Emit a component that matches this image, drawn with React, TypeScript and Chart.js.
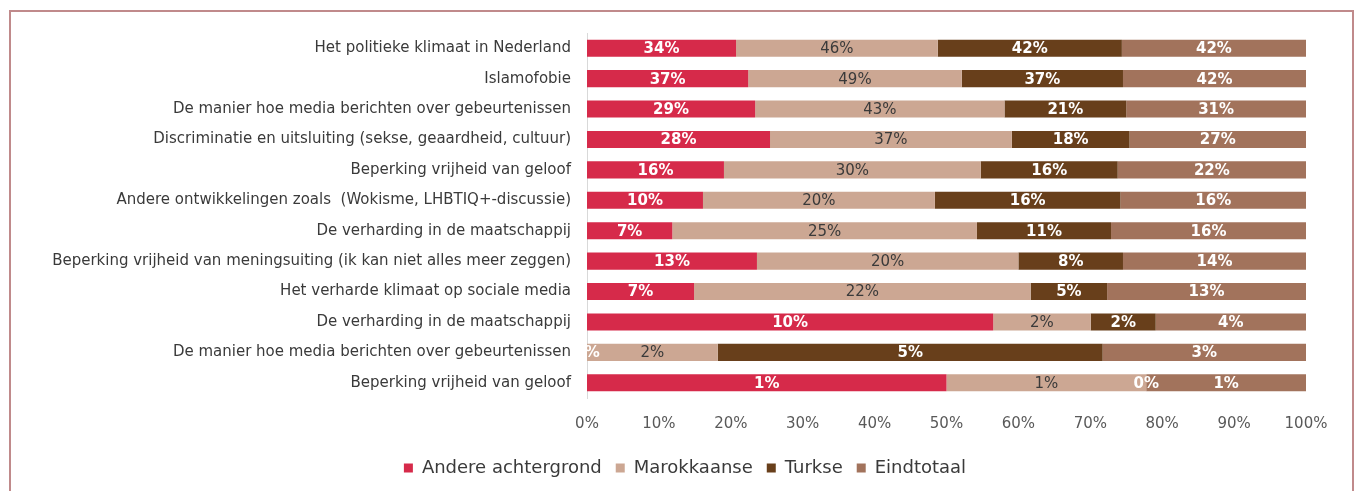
import React, { useEffect, useRef } from "react";
import { Chart, registerables } from "chart.js";

Chart.register(...registerables);

const categories = [
  "Het politieke klimaat in Nederland",
  "Islamofobie",
  "De manier hoe media berichten over gebeurtenissen",
  "Discriminatie en uitsluiting (sekse, geaardheid, cultuur)",
  "Beperking vrijheid van geloof",
  "Andere ontwikkelingen zoals  (Wokisme, LHBTIQ+-discussie)",
  "De verharding in de maatschappij",
  "Beperking vrijheid van meningsuiting (ik kan niet alles meer zeggen)",
  "Het verharde klimaat op sociale media",
  "De verharding in de maatschappij",
  "De manier hoe media berichten over gebeurtenissen",
  "Beperking vrijheid van geloof",
];

const seriesNames = ["Andere achtergrond", "Marokkaanse", "Turkse", "Eindtotaal"];
const andere = [34, 37, 29, 28, 16, 10, 7, 13, 7, 10, 0, 1.35];
const marokkaanse = [46, 49, 43, 37, 30, 20, 25, 20, 22, 2.4, 1.8, 0.75];
const turkse = [42, 37, 21, 18, 16, 16, 11, 8, 5, 1.6, 5.3, 0];
const eindtotaal = [42, 42, 31, 27, 22, 16, 16, 14, 13, 3.7, 2.8, 0.6];
const xTicks = [0, 10, 20, 30, 40, 50, 60, 70, 80, 90, 100];

const colors = ["#d62a4a", "#cca793", "#683f1b", "#a2735c"];
const labelColors = ["#ffffff", "#3a3a3a", "#ffffff", "#ffffff"];

const FONT = "'DejaVu Sans', sans-serif";

export default function App() {
  const ref = useRef<HTMLCanvasElement | null>(null);

  useEffect(() => {
    if (!ref.current) return;
    const raw = [andere, marokkaanse, turkse, eindtotaal];
    const sums = categories.map((_, i) => raw.reduce((s, arr) => s + arr[i], 0));

    const labelPlugin = {
      id: "barLabels",
      afterDatasetsDraw(chart: any) {
        const ctx = chart.ctx;
        ctx.save();
        ctx.textAlign = "center";
        ctx.textBaseline = "middle";
        chart.data.datasets.forEach((ds: any, di: number) => {
          const meta = chart.getDatasetMeta(di);
          meta.data.forEach((bar: any, i: number) => {
            const v = ds.rawValues[i];
            const x = (bar.x + bar.base) / 2;
            ctx.fillStyle = labelColors[di];
            ctx.font = (di === 1 ? "" : "bold ") + "15px " + FONT;
            ctx.fillText(Math.round(v) + "%", x, bar.y + 1);
          });
        });
        ctx.restore();
      },
    };

    const legendShift = {
      id: "legendShift",
      afterLayout(chart: any) {
        const lg = chart.legend;
        if (!lg) return;
        const shift = 685 - (lg.left + lg.right) / 2;
        lg.left += shift;
        lg.right += shift;
      },
    };

    const chart = new Chart(ref.current, {
      type: "bar",
      data: {
        labels: categories,
        datasets: raw.map((arr, di) => ({
          label: seriesNames[di],
          data: arr.map((v, i) => (v / sums[i]) * 100),
          rawValues: arr,
          backgroundColor: colors[di],
          borderWidth: 0,
          barPercentage: 0.56,
          categoryPercentage: 1,
        })) as any,
      },
      options: {
        indexAxis: "y",
        responsive: false,
        animation: false,
        layout: { padding: { top: 33, right: 54, bottom: 4, left: 0 } },
        scales: {
          x: {
            stacked: true,
            min: 0,
            max: 100,
            afterBuildTicks: (scale: any) => {
              scale.ticks = xTicks.map((v) => ({ value: v }));
            },
            afterFit: (scale: any) => {
              scale.height = 47;
            },
            grid: { display: false, drawTicks: false },
            border: { display: false },
            ticks: {
              padding: 17,
              color: "#595959",
              font: { family: FONT, size: 15 },
              callback: (v: any) => v + "%",
            },
          },
          y: {
            stacked: true,
            afterFit: (scale: any) => {
              scale.width = 587;
            },
            grid: { display: false, drawTicks: false },
            border: { display: true, color: "#d9d9d9", width: 1 },
            ticks: {
              padding: 16,
              color: "#3a3a3a",
              font: { family: FONT, size: 15 },
              autoSkip: false,
            },
          },
        },
        plugins: {
          legend: {
            position: "bottom",
            labels: {
              boxWidth: 9,
              boxHeight: 9,
              padding: 14,
              color: "#3a3a3a",
              font: { family: FONT, size: 18 },
            },
          },
          tooltip: { enabled: false },
        },
      } as any,
      plugins: [labelPlugin, legendShift],
    });
    return () => chart.destroy();
  }, []);

  return (
    <div style={{ position: "fixed", left: 0, top: 0, width: 1360, height: 491, overflow: "hidden", background: "#fff" }}>
      <div
        style={{
          position: "absolute",
          left: 9,
          top: 10,
          width: 1341,
          height: 520,
          border: "2px solid #c08a8b",
        }}
      />
      <canvas ref={ref} width={1360} height={491} style={{ position: "absolute", left: 0, top: 0, display: "block" }} />
    </div>
  );
}
